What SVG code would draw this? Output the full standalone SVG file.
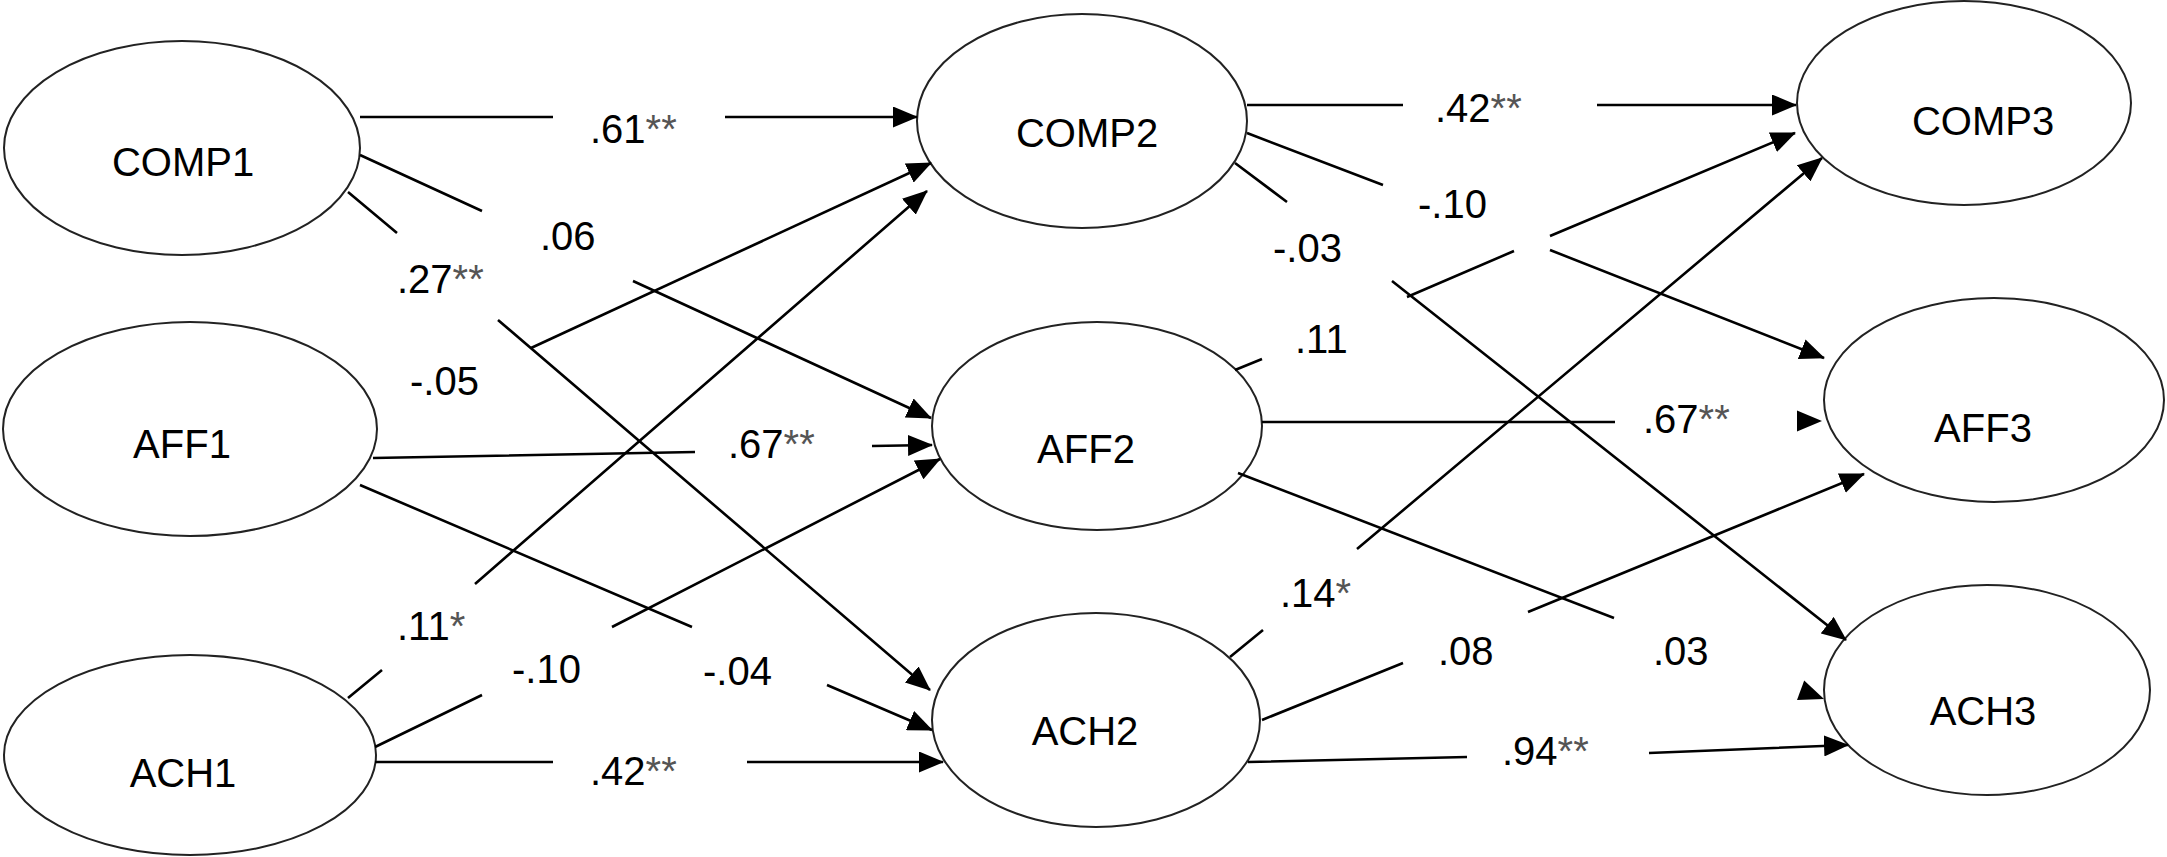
<svg xmlns="http://www.w3.org/2000/svg" width="2167" height="857" viewBox="0 0 2167 857">
<style>
.node ellipse{fill:#fff;stroke:#222;stroke-width:2}
.node text{font-family:"Liberation Sans",Arial,sans-serif;font-size:40px;fill:#000;text-anchor:middle}
.edges path{fill:none;stroke:#000;stroke-width:2.6;marker-end:url(#ah)}
.edges polygon{fill:#000;stroke:none}
.lbl text{font-family:"Liberation Sans",Arial,sans-serif;font-size:40px;fill:#000}
.st{fill:#555}
</style>
<defs>
<marker id="ah" markerUnits="userSpaceOnUse" markerWidth="25" markerHeight="21" viewBox="0 0 25 21" refX="24" refY="10.5" orient="auto"><path d="M0,0 L25,10.5 L0,21 Z" fill="#000"/></marker>
</defs>
<rect width="2167" height="857" fill="#fff"/>
<g id="COMP1" class="node"><ellipse cx="182" cy="148" rx="178" ry="107"/><text x="183" y="176">COMP1</text></g>
<g id="AFF1" class="node"><ellipse cx="190" cy="429" rx="187" ry="107"/><text x="182" y="458">AFF1</text></g>
<g id="ACH1" class="node"><ellipse cx="190" cy="755" rx="186" ry="100"/><text x="183" y="787">ACH1</text></g>
<g id="COMP2" class="node"><ellipse cx="1082" cy="121" rx="165" ry="107"/><text x="1087" y="147">COMP2</text></g>
<g id="AFF2" class="node"><ellipse cx="1097" cy="426" rx="165" ry="104"/><text x="1086" y="463">AFF2</text></g>
<g id="ACH2" class="node"><ellipse cx="1096" cy="720" rx="164" ry="107"/><text x="1085" y="745">ACH2</text></g>
<g id="COMP3" class="node"><ellipse cx="1964" cy="103" rx="167" ry="102"/><text x="1983" y="135">COMP3</text></g>
<g id="AFF3" class="node"><ellipse cx="1994" cy="400" rx="170" ry="102"/><text x="1983" y="442">AFF3</text></g>
<g id="ACH3" class="node"><ellipse cx="1987" cy="690" rx="163" ry="105"/><text x="1983" y="725">ACH3</text></g>
<g id="connectors" class="edges">
<path d="M360,117 H553 M725,117 H917"/>
<path d="M360,155 L482,211 M633,281 L931,418"/>
<path d="M348,192 L397,233 M498,320 L930,690"/>
<path d="M531,348 L931,163"/>
<path d="M373,458 L695,452 M872,446 L932,445"/>
<path d="M360,485 L692,627 M827,685 L932,730"/>
<path d="M348,698 L382,670 M475,584 L927,191"/>
<path d="M375,747 L482,695 M612,627 L940,459"/>
<path d="M375,762 H553 M747,762 H943"/>
<path d="M1247,105 H1403 M1597,105 H1796"/>
<path d="M1247,133 L1383,185 M1550,250 L1824,358"/>
<path d="M1235,163 L1287,202 M1392,281 L1846,640"/>
<path d="M1235,370 L1262,359 M1407,297 L1514,251 M1550,236 L1795,133"/>
<path d="M1262,422 H1615" style="marker-end:none"/>
<polygon points="1797,410.5 1822,421 1797,431.5"/>
<path d="M1238,473 L1614,618" style="marker-end:none"/>
<polygon points="1804.2,680.5 1824,699 1797,700.1"/>
<path d="M1230,657 L1263,630 M1357,549 L1822,158"/>
<path d="M1262,720 L1403,663 M1528,612 L1864,474"/>
<path d="M1248,762 L1467,757 M1649,753 L1848,745"/>
</g>
<g id="labels" class="lbl">
<text x="590" y="143">.61<tspan class="st">**</tspan></text>
<text x="540" y="250">.06</text>
<text x="397" y="293">.27<tspan class="st">**</tspan></text>
<text x="410" y="395">-.05</text>
<text x="728" y="458">.67<tspan class="st">**</tspan></text>
<text x="397" y="640">.11<tspan class="st">*</tspan></text>
<text x="512" y="683">-.10</text>
<text x="703" y="685">-.04</text>
<text x="590" y="785">.42<tspan class="st">**</tspan></text>
<text x="1435" y="122">.42<tspan class="st">**</tspan></text>
<text x="1418" y="218">-.10</text>
<text x="1273" y="262">-.03</text>
<text x="1295" y="353">.11</text>
<text x="1643" y="433">.67<tspan class="st">**</tspan></text>
<text x="1280" y="607">.14<tspan class="st">*</tspan></text>
<text x="1438" y="665">.08</text>
<text x="1653" y="665">.03</text>
<text x="1502" y="765">.94<tspan class="st">**</tspan></text>
</g>
</svg>
